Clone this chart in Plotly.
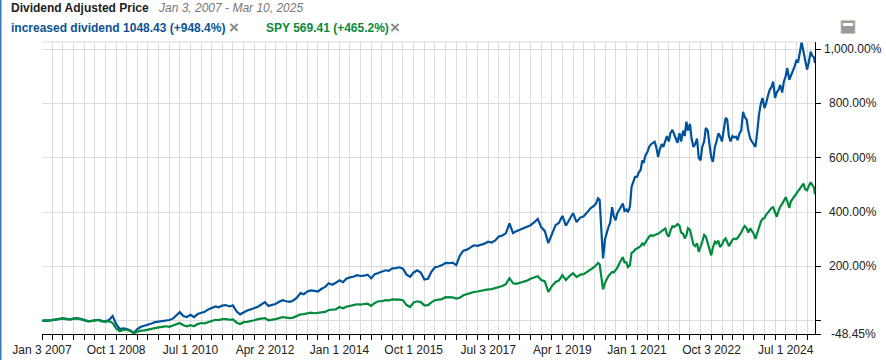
import pandas as pd
import plotly.graph_objects as go

# Series dates: monthly to 2019, twice a month from 2020, final quote Mar 10 2025
monthly = list(pd.date_range("2007-02-01", "2019-12-01", freq="MS"))
twice = list(pd.date_range("2020-01-01", "2025-03-01", freq="SMS"))
dates = [pd.Timestamp("2007-01-03")] + monthly + twice + [pd.Timestamp("2025-03-10")]

dividend = [
    0, 2, 1, 3, 6, 8, 9, 7, 5, 8, 10, 7,
    3, -1, 0, 1, 4, 0, -2, 3, 18, -12, -30, -28,
    -30, -35, -45, -30, -22, -18, -15, -10, -5, -3, 0, 3,
    3, 8, 18, 32, 18, 14, 22, 14, 25, 30, 33, 42,
    49, 53, 50, 56, 58, 53, 57, 35, 24, 32, 38, 42,
    46, 52, 60, 69, 55, 58, 62, 70, 76, 72, 70, 75,
    85, 102, 98, 108, 112, 110, 108, 118, 125, 138, 133, 140,
    149, 142, 155, 160, 162, 168, 165, 166, 170, 156, 172, 176,
    180, 186, 184, 193, 194, 197, 192, 170, 162, 178, 186, 178,
    152, 155, 180, 197, 200, 205, 213, 212, 214, 205, 240, 258,
    262, 272, 278, 276, 280, 284, 291, 288, 296, 310, 314, 322,
    359, 323, 330, 335, 341, 346, 352, 362, 375, 345, 330, 286,
    320, 352, 360, 386, 350, 375, 396, 363, 380, 385, 400, 415,
    425, 432, 451, 445, 330, 230, 300, 323, 346, 360, 418, 385, 370, 395, 410, 420, 432, 405, 410, 400, 420, 493, 510, 530,
    530, 545, 555, 590, 585, 610, 622, 640, 650, 655, 659, 640, 603, 630, 650, 640, 666, 680, 660, 690, 703, 690, 670, 655,
    690, 660, 700, 680, 733, 700, 725, 670, 640, 650, 670, 600, 590, 640, 660, 710, 700, 650, 600, 585, 640, 660, 690, 680,
    660, 700, 747, 740, 680, 660, 680, 675, 678, 665, 690, 700, 769, 750, 740, 700, 670, 660, 650, 640, 700, 760, 800, 820,
    783, 800, 830, 850, 860, 880, 820, 840, 850, 868, 840, 880, 900, 930, 887, 900, 920, 935, 960, 950, 990, 1026, 990, 960,
    925, 950, 990, 975, 970, 948.4,
]

spy = [
    0, 2, 1, 3, 6, 8, 9, 6, 5, 8, 9, 6,
    2, -2, -1, 1, 3, -2, -3, -1, -8, -28, -38, -34,
    -32, -38, -45, -40, -36, -35, -32, -28, -25, -24, -22, -20,
    -22, -18, -12, -8, -16, -20, -16, -20, -12, -8, -9, -4,
    1, 4, 3, 6, 6, 4, 5, -6, -12, -5, -4, -2,
    2, 6, 8, 10, 2, 3, 6, 10, 14, 12, 10, 12,
    18, 24, 25, 28, 30, 28, 29, 31, 33, 40, 41, 42,
    51, 46, 52, 54, 58, 61, 60, 62, 63, 55, 66, 72,
    72, 76, 75, 79, 79, 78, 76, 58, 51, 68, 72, 69,
    57, 58, 68, 76, 78, 80, 87, 86, 86, 82, 85, 94,
    98, 104, 106, 108, 111, 113, 116, 117, 120, 125, 128, 135,
    157, 138, 136, 140, 143, 148, 155, 160, 164, 150, 145, 106,
    128, 143, 148, 168, 150, 165, 175, 161, 170, 172, 180, 190,
    198, 205, 213, 208, 160, 116, 140, 155, 165, 172, 180, 178, 185, 195, 210, 222, 235, 215, 215, 198, 205, 250, 254, 262,
    265, 270, 275, 285, 280, 290, 300, 310, 315, 312, 316, 318, 320, 325, 332, 335, 340, 318, 310, 332, 348, 345, 350, 356,
    350, 325, 320, 303, 315, 341, 335, 305, 280, 275, 285, 254, 270, 290, 316, 310, 285, 260, 241, 270, 291, 285, 295, 272,
    280, 295, 303, 290, 275, 285, 298, 303, 300, 305, 315, 325, 340, 349, 340, 325, 340, 330, 320, 301, 325, 350, 365, 375,
    378, 390, 400, 405, 415, 418, 395, 383, 405, 420, 430, 445, 455, 440, 415, 440, 450, 460, 470, 475, 485, 495, 505, 485,
    480, 495, 510, 500, 490, 465.2,
]

x_label_dates = ["2007-01-03", "2008-10-01", "2010-07-01", "2012-04-02", "2014-01-01", "2015-10-01",
                 "2017-07-03", "2019-04-01", "2021-01-01", "2022-10-03", "2024-07-01"]
x_labels = ["Jan 3 2007", "Oct 1 2008", "Jul 1 2010", "Apr 2 2012", "Jan 1 2014", "Oct 1 2015",
            "Jul 3 2017", "Apr 1 2019", "Jan 1 2021", "Oct 3 2022", "Jul 1 2024"]
y_ticks = [-48.45, 0, 200, 400, 600, 800, 1000]
y_labels = ["-48.45%", "", "200.00%", "400.00%", "600.00%", "800.00%", "1,000.00%"]

BLUE = "#00529b"
GREEN = "#008a3c"
FONT = "Liberation Sans, Arial, sans-serif"
L, R, T, B = 42, 815, 42, 334


def px(x):
    return (x - L) / (R - L)


def py(y):
    return (B - y) / (B - T)


label_map = dict(zip([pd.Timestamp(d) for d in x_label_dates], x_labels))
labelled_quarters = {t.to_period("Q") for t in label_map}
quarters = [q for q in pd.date_range("2007-04-01", "2025-01-01", freq="QS")
            if q.to_period("Q") not in labelled_quarters]
x_ticks = sorted(set(label_map) | set(quarters))

fig = go.Figure()
fig.add_trace(go.Scatter(x=dates, y=dividend, mode="lines", name="increased dividend",
                         line=dict(color=BLUE, width=2.2)))
fig.add_trace(go.Scatter(x=dates, y=spy, mode="lines", name="SPY",
                         line=dict(color=GREEN, width=2.2)))


def note(x, y, text, color="#222", size=12, anchor="left", **kw):
    fig.add_annotation(xref="paper", yref="paper", x=px(x), y=py(y), text=text, showarrow=False,
                       xanchor=anchor, yanchor="middle", align=anchor,
                       font=dict(family=FONT, size=size, color=color), borderpad=0, **kw)


note(10, 8, "<b>Dividend Adjusted Price</b>", "#222")
note(157, 8, "<i>Jan 3, 2007 - Mar 10, 2025</i>", "#777")
note(10, 28, "<b>increased dividend 1048.43 (+948.4%)</b>", "#0b5394")
note(234, 27.5, "<b>×</b>", "#888", 17, anchor="center")
note(265, 28, "<b>SPY 569.41 (+465.2%)</b>", "#0a8a3c")
note(395, 27.5, "<b>×</b>", "#888", 17, anchor="center")

for v, t in zip(y_ticks, y_labels):
    if t:
        fig.add_annotation(xref="paper", yref="y", x=px(853), y=v, text=t, showarrow=False,
                           xanchor="center", yanchor="middle",
                           font=dict(family=FONT, size=12, color="#222"))

shapes = [
    dict(type="line", xref="paper", yref="paper", x0=0, x1=1, y0=1, y1=1, line=dict(color="#dcdcdc", width=1)),
    dict(type="rect", xref="paper", yref="paper", x0=px(841), x1=px(855), y0=py(33.5), y1=py(20.5),
         fillcolor="#999999", line=dict(color="#c9c9b0", width=1)),
    dict(type="rect", xref="paper", yref="paper", x0=px(843), x1=px(853), y0=py(26), y1=py(23),
         fillcolor="#ffffff", line=dict(width=0)),
    dict(type="rect", xref="paper", yref="paper", x0=px(0), x1=px(1.5), y0=py(360), y1=py(0),
         fillcolor="#3d7ab5", line=dict(width=0)),
]

fig.update_layout(
    width=886, height=360, margin=dict(l=L, r=886 - R, t=T, b=360 - B),
    paper_bgcolor="white", plot_bgcolor="white", showlegend=False,
    font=dict(family=FONT, size=12, color="#222"), shapes=shapes,
    xaxis=dict(type="date", range=["2007-01-03", "2025-03-10"], automargin=False,
               tickmode="array", tickvals=x_ticks, ticktext=[label_map.get(t, "") for t in x_ticks],
               tickangle=0, ticks="outside", ticklen=5, tickcolor="black", tickwidth=1,
               showgrid=True, gridcolor="#dcdcdc", gridwidth=1,
               showline=True, linecolor="black", linewidth=1, zeroline=False,
               tickfont=dict(family=FONT, size=12, color="#222")),
    yaxis=dict(side="right", range=[-48.45, 1026], automargin=False,
               tickmode="array", tickvals=y_ticks, ticktext=[""] * len(y_ticks),
               ticks="outside", ticklen=5, tickcolor="black", tickwidth=1,
               showgrid=True, gridcolor="#dcdcdc", gridwidth=1,
               showline=True, linecolor="black", linewidth=1, zeroline=False),
)

fig.write_html("out.html", config={"displayModeBar": False},
               post_script="document.body.style.margin='0';document.body.style.overflow='hidden';")
